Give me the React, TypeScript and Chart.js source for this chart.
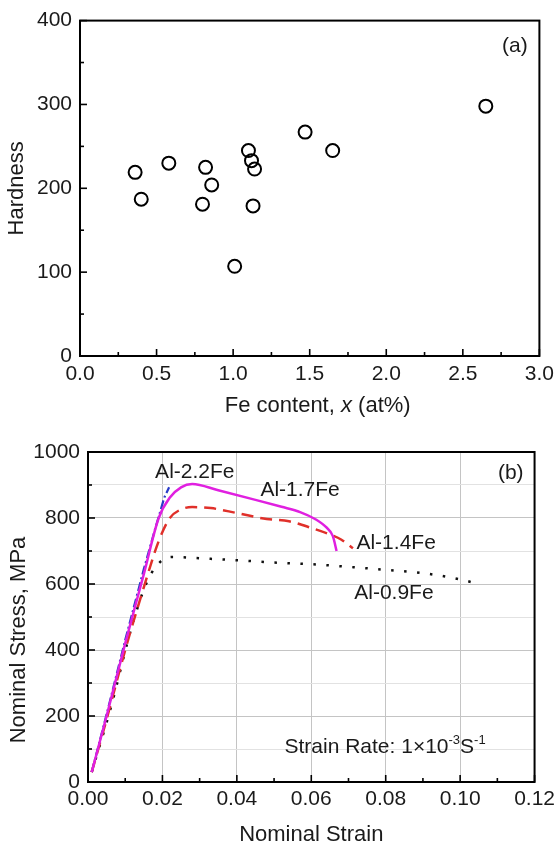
import React, { useEffect, useRef } from "react";
import { Chart, registerables } from "chart.js";

Chart.register(...registerables);

const FONT = "'Liberation Sans', Arial, sans-serif";
const INK = "#1a1a1a";

// ---------- (a) Hardness vs Fe content ----------
const feContent = [0.36, 0.40, 0.58, 0.80, 0.82, 0.86, 1.01, 1.10, 1.12, 1.14, 1.13, 1.47, 1.65, 2.65];
const hardness = [219, 187, 230, 181, 225, 204, 107, 245, 233, 223, 179, 267, 245, 298];
const aXRange = [0, 3];
const aXStep = 0.25;
const aXMajor = 0.5;
const aYRange = [0, 400];
const aYStep = 50;
const aYMajor = 100;

// ---------- (b) Nominal stress-strain curves ----------
const seriesNames = ["Al-2.2Fe", "Al-1.7Fe", "Al-1.4Fe", "Al-0.9Fe"];
const strain22 = [0.001, 0.005, 0.010, 0.015, 0.018, 0.0205, 0.0218];
const stress22 = [30, 205, 430, 645, 765, 862, 893];
const strain17 = [0.001, 0.005, 0.010, 0.015, 0.019, 0.022, 0.025, 0.028, 0.035, 0.045, 0.052, 0.057, 0.061, 0.064, 0.0658, 0.0668];
const stress17 = [30, 200, 420, 630, 800, 862, 893, 903, 884, 855, 834, 818, 797, 772, 745, 700];
const strain14 = [0.001, 0.005, 0.010, 0.015, 0.019, 0.022, 0.025, 0.028, 0.033, 0.040, 0.048, 0.054, 0.060, 0.0655, 0.068, 0.0712];
const stress14 = [30, 190, 400, 590, 730, 800, 826, 833, 830, 815, 797, 790, 770, 748, 735, 708];
const strain09 = [0.001, 0.006, 0.012, 0.016, 0.0195, 0.0225, 0.030, 0.040, 0.050, 0.060, 0.070, 0.080, 0.090, 0.100, 0.105];
const stress09 = [30, 220, 480, 610, 668, 682, 678, 672, 665, 660, 652, 643, 633, 614, 600];
const bXRange = [0, 0.12];
const bXStep = 0.01;
const bXMajor = 0.02;
const bYRange = [0, 1000];
const bYStep = 100;
const bYMajor = 200;

// curve label anchors (data coordinates)
const labelStrain = [0.0287, 0.057, 0.0828, 0.0822];
const labelStress = [939, 885, 724, 573];
const rateStrain = 0.0528;
const rateStress = 88;

const isMultiple = (v: number, m: number) => Math.abs(v / m - Math.round(v / m)) < 1e-6;

function richText(ctx: CanvasRenderingContext2D, parts: { t: string; size: number; dy: number; italic?: boolean }[], x: number, y: number, align: "left" | "center") {
  let total = 0;
  const widths = parts.map((p) => {
    ctx.font = `${p.italic ? "italic " : ""}${p.size}px ${FONT}`;
    const w = ctx.measureText(p.t).width;
    total += w;
    return w;
  });
  let cx = align === "center" ? x - total / 2 : x;
  parts.forEach((p, i) => {
    ctx.font = `${p.italic ? "italic " : ""}${p.size}px ${FONT}`;
    ctx.fillText(p.t, cx, y + p.dy);
    cx += widths[i];
  });
}

const frameTicksPlugin = {
  id: "frameTicks",
  afterDraw(chart: any) {
    const { ctx, chartArea: a, scales } = chart;
    ctx.save();
    ctx.strokeStyle = "#000";
    ctx.lineWidth = 1.6;
    ["x", "y"].forEach((id) => {
      const s = scales[id];
      s.ticks.forEach((t: any) => {
        const major = t.label !== "" && t.label !== undefined;
        const len = major ? 7 : 4;
        const p = s.getPixelForValue(t.value);
        ctx.beginPath();
        if (id === "x") {
          ctx.moveTo(p, a.bottom);
          ctx.lineTo(p, a.bottom - len);
        } else {
          ctx.moveTo(a.left, p);
          ctx.lineTo(a.left + len, p);
        }
        ctx.stroke();
      });
    });
    ctx.lineWidth = 2;
    ctx.strokeRect(a.left, a.top, a.right - a.left, a.bottom - a.top);
    ctx.restore();
  },
};

const tickFont = { family: FONT, size: 21 };
const TITLE_SIZE = 22;
const LABEL_SIZE = 21;

function HardnessChart() {
  const ref = useRef<HTMLCanvasElement>(null);
  useEffect(() => {
    const textPlugin = {
      id: "textA",
      afterDraw(chart: any) {
        const { ctx, chartArea: a, scales } = chart;
        ctx.save();
        ctx.fillStyle = INK;
        ctx.textBaseline = "middle";
        ctx.font = `21px ${FONT}`;
        ctx.textAlign = "center";
        ctx.fillText("(a)", scales.x.getPixelForValue(2.84), scales.y.getPixelForValue(370));
        ctx.textAlign = "left";
        richText(
          ctx,
          [
            { t: "Fe content, ", size: TITLE_SIZE, dy: 0 },
            { t: "x", size: TITLE_SIZE, dy: 0, italic: true },
            { t: " (at%)", size: TITLE_SIZE, dy: 0 },
          ],
          (a.left + a.right) / 2 + 8,
          a.bottom + 50,
          "center"
        );
        ctx.restore();
      },
    };
    const chart = new Chart(ref.current!, {
      type: "scatter",
      data: {
        datasets: [
          {
            data: feContent.map((x, i) => ({ x, y: hardness[i] })),
            pointStyle: "circle",
            pointRadius: 6.5,
            pointBorderWidth: 2,
            pointBorderColor: "#000",
            pointBackgroundColor: "rgba(0,0,0,0)",
          },
        ],
      },
      options: {
        responsive: false,
        animation: false,
        devicePixelRatio: 1,
        layout: { padding: { left: 0, right: 18, top: 17, bottom: 0 } },
        plugins: { legend: { display: false }, tooltip: { enabled: false } },
        scales: {
          x: {
            type: "linear",
            min: aXRange[0],
            max: aXRange[1],
            grid: { display: false, drawTicks: false },
            border: { display: false },
            ticks: {
              stepSize: aXStep,
              autoSkip: false,
              maxRotation: 0,
              padding: 6,
              color: INK,
              font: tickFont,
              callback: (v: any) => (isMultiple(Number(v), aXMajor) ? Number(v).toFixed(1) : ""),
            },
            afterFit: (s: any) => {
              s.height = 69;
            },
          },
          y: {
            type: "linear",
            min: aYRange[0],
            max: aYRange[1],
            grid: { display: false, drawTicks: false },
            border: { display: false },
            ticks: {
              stepSize: aYStep,
              autoSkip: false,
              padding: 8,
              color: INK,
              font: tickFont,
              callback: (v: any) => (isMultiple(Number(v), aYMajor) ? String(v) : ""),
            },
            title: {
              display: true,
              text: "Hardness",
              color: INK,
              font: { family: FONT, size: TITLE_SIZE, lineHeight: 1 },
              padding: { top: 6, bottom: 0 },
            },
            afterFit: (s: any) => {
              s.width = 80;
            },
          },
        },
      },
      plugins: [frameTicksPlugin, textPlugin],
    } as any);
    return () => chart.destroy();
  }, []);
  return <canvas ref={ref} width={560} height={425} style={{ position: "absolute", left: 0, top: 0, width: 560, height: 425 }} />;
}

function StressChart() {
  const ref = useRef<HTMLCanvasElement>(null);
  useEffect(() => {
    const textPlugin = {
      id: "textB",
      afterDraw(chart: any) {
        const { ctx, chartArea: a, scales } = chart;
        const xs = scales.x;
        const ys = scales.y;
        ctx.save();
        ctx.fillStyle = INK;
        ctx.textBaseline = "middle";
        ctx.textAlign = "center";
        ctx.font = `${LABEL_SIZE}px ${FONT}`;
        seriesNames.forEach((n, i) => {
          ctx.fillText(n, xs.getPixelForValue(labelStrain[i]), ys.getPixelForValue(labelStress[i]));
        });
        ctx.font = `21px ${FONT}`;
        ctx.fillText("(b)", xs.getPixelForValue(0.1136), ys.getPixelForValue(936));
        ctx.textBaseline = "alphabetic";
        ctx.textAlign = "left";
        richText(
          ctx,
          [
            { t: "Strain Rate: 1×10", size: LABEL_SIZE, dy: 0 },
            { t: "-3", size: 13, dy: -9 },
            { t: "S", size: LABEL_SIZE, dy: 0 },
            { t: "-1", size: 13, dy: -9 },
          ],
          xs.getPixelForValue(rateStrain),
          ys.getPixelForValue(rateStress),
          "left"
        );
        // y-axis title
        ctx.save();
        ctx.translate(19, a.top + 188);
        ctx.rotate(-Math.PI / 2);
        ctx.textAlign = "center";
        ctx.textBaseline = "middle";
        ctx.font = `${TITLE_SIZE}px ${FONT}`;
        ctx.fillText("Nominal Stress, MPa", 0, 0);
        ctx.restore();
        ctx.restore();
      },
    };
    const mk = (sx: number[], sy: number[]) => sx.map((x, i) => ({ x, y: sy[i] }));
    const chart = new Chart(ref.current!, {
      type: "line",
      data: {
        datasets: [
          {
            label: seriesNames[1],
            data: mk(strain17, stress17),
            borderColor: "#e020e0",
            borderWidth: 2.5,
            pointRadius: 0,
            cubicInterpolationMode: "monotone",
            fill: false,
          },
          {
            label: seriesNames[2],
            data: mk(strain14, stress14),
            borderColor: "#e0302a",
            borderWidth: 2.5,
            borderDash: [12, 7],
            pointRadius: 0,
            cubicInterpolationMode: "monotone",
            fill: false,
          },
          {
            label: seriesNames[0],
            data: mk(strain22, stress22),
            borderColor: "#2a3cc8",
            borderWidth: 2.2,
            borderDash: [9, 3, 2, 3],
            pointRadius: 0,
            fill: false,
          },
          {
            label: seriesNames[3],
            data: mk(strain09, stress09),
            borderColor: "#111",
            borderWidth: 2.5,
            borderDash: [2.5, 10.5],
            pointRadius: 0,
            cubicInterpolationMode: "monotone",
            fill: false,
          },
        ],
      },
      options: {
        responsive: false,
        animation: false,
        devicePixelRatio: 1,
        layout: { padding: { left: 0, right: 24, top: 27, bottom: 0 } },
        plugins: { legend: { display: false }, tooltip: { enabled: false } },
        scales: {
          x: {
            type: "linear",
            min: bXRange[0],
            max: bXRange[1],
            grid: {
              drawTicks: false,
              lineWidth: 1,
              color: (c: any) => (c.tick && isMultiple(c.tick.value, bXMajor) ? "#c4c4c4" : "rgba(0,0,0,0)"),
            },
            border: { display: false },
            ticks: {
              stepSize: bXStep,
              autoSkip: false,
              maxRotation: 0,
              padding: 5,
              color: INK,
              font: tickFont,
              callback: (v: any) => (isMultiple(Number(v), bXMajor) ? Number(v).toFixed(2) : ""),
            },
            title: {
              display: true,
              text: "Nominal Strain",
              color: INK,
              font: { family: FONT, size: TITLE_SIZE, lineHeight: 1 },
              padding: { top: 0, bottom: 1 },
            },
            afterFit: (s: any) => {
              s.height = 65;
            },
          },
          y: {
            type: "linear",
            min: bYRange[0],
            max: bYRange[1],
            grid: {
              drawTicks: false,
              lineWidth: 1,
              color: (c: any) => (c.tick && isMultiple(c.tick.value, bYMajor) ? "#c4c4c4" : "#e2e2e2"),
            },
            border: { display: false },
            ticks: {
              stepSize: bYStep,
              autoSkip: false,
              padding: 8,
              color: INK,
              font: tickFont,
              callback: (v: any) => (isMultiple(Number(v), bYMajor) ? String(v) : ""),
            },
            afterFit: (s: any) => {
              s.width = 88;
            },
          },
        },
      },
      plugins: [frameTicksPlugin, textPlugin],
    } as any);
    return () => chart.destroy();
  }, []);
  return <canvas ref={ref} width={560} height={422} style={{ position: "absolute", left: 0, top: 425, width: 560, height: 422 }} />;
}

export default function App() {
  return (
    <div style={{ position: "absolute", left: 0, top: 0, width: 560, height: 847, background: "#fff" }}>
      <HardnessChart />
      <StressChart />
    </div>
  );
}
